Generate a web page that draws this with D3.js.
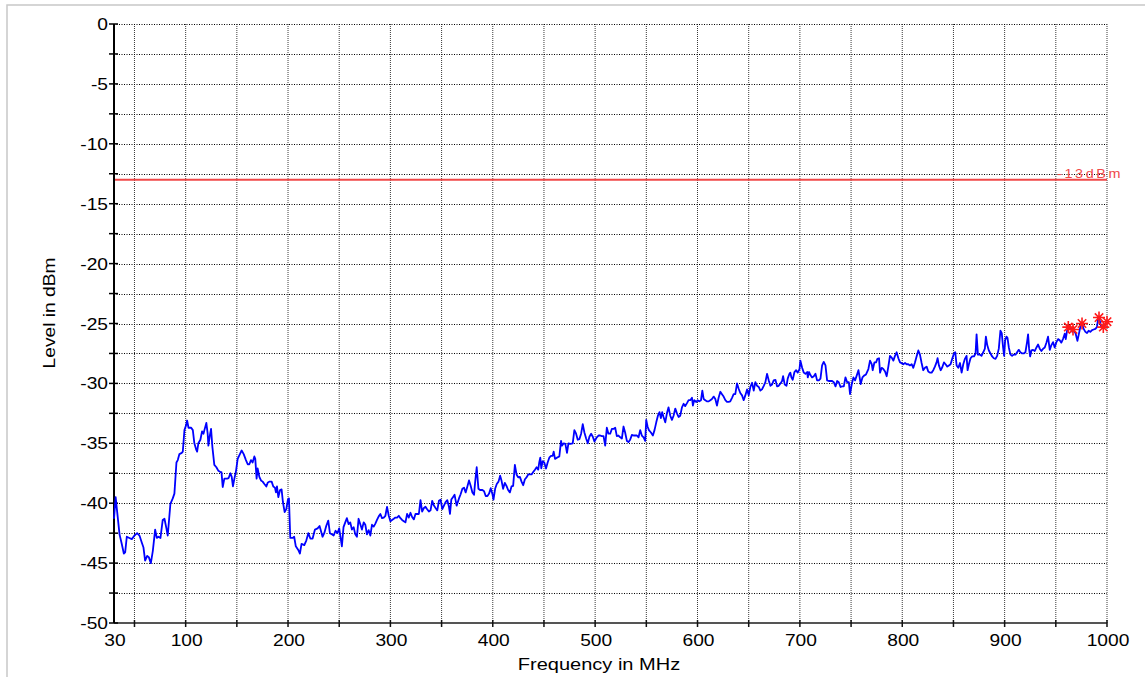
<!DOCTYPE html>
<html>
<head>
<meta charset="utf-8">
<script src="https://cdn.jsdelivr.net/npm/d3@7"></script>
<style>
  html, body { margin: 0; padding: 0; background: #fff; }
  svg { display: block; }
  text { font-family: "Liberation Sans", Arial, sans-serif; }
</style>
</head>
<body>
<svg id="chart" width="1145" height="677"></svg>
<script>
// Axis ticks and labels
const xLabelTicks = [30, 100, 200, 300, 400, 500, 600, 700, 800, 900, 1000];
const xGridTicks = [50, 100, 150, 200, 250, 300, 350, 400, 450, 500, 550, 600, 650, 700, 750, 800, 850, 900, 950, 1000];
const yLabelTicks = [0, -5, -10, -15, -20, -25, -30, -35, -40, -45, -50];
const yGridTicks = [0, -2.5, -5, -7.5, -10, -12.5, -15, -17.5, -20, -22.5, -25, -27.5, -30, -32.5, -35, -37.5, -40, -42.5, -45, -47.5];

// Limit line
const limitLevel = -13;
const limitLabel = "-13dBm";

// Measured sweep: [frequency MHz, level dBm]
const sweep = [
  [30,-41.3],[31.6,-39.5],[35.4,-42.6],[37.6,-43.4],[39.6,-44.2],[40.9,-44.1],[42.5,-42.8],[45,-42.9],[47.4,-43.0],[50,-42.7],
  [52.6,-42.5],[54.9,-42.7],[57.2,-43.3],[58.8,-43.7],[60.4,-44.8],[62.4,-44.4],[64,-44.5],[66,-45.0],[67.9,-44.0],[70.2,-42.2],
  [71.8,-42.9],[73.4,-42.8],[75.4,-42.9],[77.6,-41.4],[79.3,-41.3],[81.2,-42.1],[82.5,-42.7],[85.1,-40.05],[87.4,-39.6],[89,-39.2],
  [91,-36.6],[92.3,-36.4],[93.9,-35.9],[96.2,-35.8],[97.2,-35.7],[98.8,-33.9],[100.4,-33.5],[101.4,-33.1],[102.8,-33.7],[105.4,-33.7],
  [107,-33.9],[108.5,-35.0],[110.2,-35.5],[111.2,-35.7],[112.4,-35.0],[114.4,-34.7],[116,-34.0],[117.4,-34.2],[118.3,-33.9],[120.2,-33.3],
  [121.5,-34.2],[122.2,-35.2],[123.5,-34.4],[124.8,-33.8],[126.1,-35.3],[128,-36.8],[130,-37.0],[132,-37.3],[133.9,-37.4],[135,-37.4],
  [136.2,-38.65],[137.8,-37.95],[140.4,-37.95],[142,-37.9],[143.7,-37.5],[145,-37.8],[146.2,-38.6],[147.6,-37.95],[149.2,-37.3],[150.8,-36.3],
  [152.4,-36.0],[154.7,-35.6],[156.7,-35.9],[158.9,-36.4],[160.6,-36.75],[162.2,-36.75],[163.8,-36.4],[165.4,-36.6],[167.1,-36.1],[168,-36.3],
  [169.3,-37.95],[170.3,-37.1],[172,-37.8],[173.6,-38.1],[175.2,-38.2],[176.9,-38.4],[178.8,-38.6],[180.1,-38.3],[181.7,-38.2],[184,-38.2],
  [185.6,-38.6],[187.2,-38.7],[188.2,-39.1],[189.2,-38.6],[190.5,-39.5],[192.2,-38.9],[193.7,-38.85],[195,-39.9],[196.7,-40.75],[198.3,-40.5],
  [199.9,-39.7],[200.9,-39.6],[202.2,-42.9],[204.5,-42.9],[206,-42.8],[207.6,-43.6],[210,-43.9],[211.6,-44.2],[213.2,-43.4],[215.9,-43.5],
  [217.9,-43.1],[219.8,-42.5],[221.8,-42.95],[224,-42.95],[226.3,-42.2],[228.9,-42.1],[230.8,-41.9],[232.1,-42.3],[233.7,-42.8],[235.4,-42.5],
  [237.3,-41.9],[239.3,-41.45],[240.9,-42.5],[242.8,-42.6],[244.5,-42.7],[246.4,-42.3],[248.3,-42.5],[250,-42.1],
  [252.6,-43.6],[254.2,-42.0],[255.9,-41.6],[257.5,-41.25],[259.2,-41.75],[260.8,-41.6],[262.4,-42.2],[264.1,-42.0],[265.7,-42.6],[267.3,-42.8],
  [268.9,-41.3],[270.6,-41.75],[272.2,-42.2],[273.9,-41.6],[275.5,-41.8],[277.1,-42.6],[278.8,-42.25],[280.4,-42.7],[282,-41.8],[283.7,-41.95],
  [285.3,-41.7],[286.9,-41.4],[288.6,-41.1],[290.2,-40.9],[291.8,-41.25],[293.5,-41.2],[295.1,-41.05],[296.7,-40.3],[298.4,-41.05],[300,-41.5],
  [301.6,-41.4],[303.3,-41.3],[304.9,-41.2],[306.5,-41.2],[308.2,-41.05],[309.8,-41.25],[311.4,-41.4],[313.1,-41.5],[314.7,-41.6],[316.3,-40.9],
  [318,-41.2],[319.6,-40.8],[321.2,-41.15],[322.9,-41.35],[324.5,-40.9],[326.1,-40.9],[327.8,-40.9],[329.4,-39.75],[331,-40.7],[332.7,-40.4],
  [334.3,-40.3],[335.9,-40.5],[337.6,-40.7],[339.2,-40.6],[340.8,-39.8],[342.5,-40.2],[344.1,-40.4],[345.8,-40.6],[347.4,-39.8],[349,-39.7],
  [350.7,-40.5],[352.3,-40.2],[353.9,-39.9],[355.6,-39.75],[357.2,-40.3],[358.2,-40.9],[359.5,-39.7],[361.1,-39.5],[362.7,-39.3],[364.7,-40.2],
  [367,-39.6],[368.6,-39.25],[370.3,-38.8],[371.9,-38.7],[373.5,-39.1],[375.2,-38.6],[376.8,-38.1],[378.4,-38.55],[380.1,-39.1],[381.7,-39.3],
  [382.7,-38.3],[384.3,-37.0],[386,-38.8],[387.6,-38.9],[389.9,-38.9],[391.5,-39.0],[393.1,-39.4],[394.8,-39.4],[396.4,-39.2],[398,-38.75],
  [399.7,-39.25],[400.7,-39.7],[402.3,-38.8],[403.9,-38.4],[405.6,-38.2],[407.2,-37.7],[408.5,-38.1],[410.1,-38.8],[411.8,-38.3],[413.4,-38.55],
  [415,-38.9],[416.7,-39.1],[418.3,-38.6],[419.9,-38.55],[421.6,-36.8],[423.2,-37.6],[424.8,-37.85],[426.5,-37.8],[428.1,-38.2],[429.7,-38.5],
  [431.4,-38.0],[433,-37.85],[434.6,-37.6],[436.3,-37.6],[437.9,-37.6],[439.5,-37.4],[441.2,-37.2],[442.8,-37.0],[444.4,-37.2],[445.4,-36.6],
  [446.4,-36.2],[447.4,-37.1],[448.7,-36.5],[450.3,-36.6],[452,-37.1],[453.6,-36.6],[455.2,-36.2],[456.9,-36.05],[458.5,-36.05],[459.5,-35.7],
  [460.8,-36.3],[462.7,-36.2],[465,-36.1],[466.7,-34.8],[467.6,-35.2],[469.3,-35.0],[470.9,-35.05],[472.5,-35.8],[473.9,-35.0],[475.8,-35.05],
  [478.1,-35.0],[479.7,-33.9],[481.4,-34.2],[483,-34.7],[484.6,-34.65],[486.3,-34.2],[487.9,-33.4],[489.5,-34.1],[491.2,-34.6],[492.8,-35.0],
  [494.4,-34.45],[496.1,-34.2],[497.7,-34.45],[499.3,-34.85],
  [501.6,-34.5],[503.3,-34.35],[504.9,-34.35],[506.5,-34.4],[508.2,-34.4],[509.8,-35.2],[511.4,-33.7],[513,-34.2],[514.7,-34.2],[516.3,-33.8],
  [517.9,-33.8],[519.6,-33.7],[521.2,-34.4],[522.8,-34.35],[524.5,-34.5],[526.1,-34.6],[527.7,-33.6],[529.3,-34.1],[531,-34.8],[532.6,-34.9],
  [534.2,-34.7],[535.9,-34.3],[537.5,-34.35],[539.1,-34.35],[540.8,-34.35],[542.4,-34.5],[544,-33.9],[545.6,-34.35],[547.3,-34.5],[548.9,-34.8],
  [549.9,-33.05],[551.2,-33.6],[552.5,-33.9],[554.5,-34.1],[556.4,-34.35],[558,-33.9],[559.7,-33.25],[561.3,-32.7],[562.9,-32.4],[564.2,-32.9],
  [565.5,-32.4],[566.8,-32.8],[568.5,-33.25],[570.1,-32.5],[571.7,-32.0],[573.4,-32.7],[575,-33.05],[576.6,-32.7],[578.3,-32.1],[579.9,-32.5],
  [581.5,-32.8],[583.1,-32.7],[584.8,-32.0],[586.4,-31.7],[588,-31.9],[589.7,-31.65],[591.3,-31.4],[592.9,-31.4],[594.6,-31.2],[595.5,-31.85],
  [596.8,-31.4],[598.8,-31.55],[600.1,-31.4],[601.7,-31.5],[603.4,-31.4],[604.7,-30.6],[606,-31.3],[607.6,-31.4],[609.2,-31.5],[610.9,-31.5],
  [612.5,-31.4],[614.1,-31.3],[615.8,-31.1],[617.4,-31.3],[619,-31.85],[620.6,-31.2],[622.3,-30.7],[623.9,-30.9],[625.5,-31.1],[627.2,-31.4],
  [628.8,-31.55],[630.4,-31.55],[632,-31.5],[633.7,-31.2],[635.3,-30.9],[636.9,-30.9],[638.6,-30.0],[640.2,-30.45],[641.8,-30.8],[643.5,-31.0],
  [645.1,-31.4],[646.7,-31.0],[648.4,-30.5],[650,-31.0],[651.6,-30.3],[653.3,-29.95],[654.9,-30.6],[656.5,-29.9],[658.2,-30.2],[659.8,-30.3],
  [661.4,-30.6],[663,-30.5],[664.7,-30.2],[666.3,-29.9],[667.9,-29.2],[669.6,-29.75],[671.2,-30.2],[672.8,-30.1],[674.4,-29.75],[676.1,-29.7],
  [677.7,-30.25],[679.3,-30.2],[681,-30.0],[682.6,-29.8],[683.6,-29.4],[685.2,-30.1],[686.9,-30.2],[688.1,-29.6],[689.8,-29.2],[690.7,-29.1],
  [691.7,-29.5],[693,-29.7],[694.7,-29.05],[696.3,-28.9],[697.9,-29.1],[699.6,-28.8],[700.5,-28.1],[702.2,-28.7],[703.8,-29.1],[705.4,-29.2],
  [707.1,-29.05],[707.7,-29.5],[709,-29.05],[710.3,-29.3],[711.9,-29.5],[713.6,-29.4],[715.2,-29.2],[716.8,-29.75],[718.5,-29.75],[720.1,-29.6],
  [721.7,-28.5],[723.3,-28.2],[725,-28.5],[726.6,-29.75],[728.2,-29.8],[729.9,-29.8],[731.5,-29.8],[733.1,-29.9],[734.8,-30.25],[736.4,-29.8],
  [738,-29.9],[739.7,-30.3],[741.3,-30.25],[742.9,-30.25],[744.5,-29.5],[746.2,-29.9],[747.8,-29.9],
  [749,-30.9],[750.7,-30.05],[752.3,-29.5],[753.9,-29.75],[755.5,-29.35],[757.2,-28.9],[758.1,-29.35],[759.4,-30.05],[761.1,-29.5],[762.7,-29.35],
  [764.6,-29.25],[766.9,-28.8],[768.5,-28.1],[770.2,-28.4],[771.1,-28.9],[772.8,-28.25],[774.4,-28.25],[775.7,-27.95],[777.3,-27.9],[778.3,-29.1],
  [779.9,-28.7],[781.5,-28.8],[783.2,-29.0],[784.8,-29.4],[786.4,-28.6],[788,-27.7],[789.7,-27.85],[791.3,-28.1],[792.9,-27.7],[794.5,-27.4],
  [796.2,-27.9],[797.8,-28.25],[799.4,-28.3],[801,-28.4],[802.7,-28.3],[804.3,-28.4],[805.9,-28.4],[807.5,-28.5],[809.2,-28.4],[810.8,-28.7],
  [812.4,-28.25],[814,-27.75],[815.7,-27.25],[817.3,-27.6],[818.9,-28.3],[820.5,-28.9],[822.2,-28.7],[823.8,-28.6],[825.4,-29.0],[827,-29.1],
  [828.7,-29.1],[830.3,-28.9],[831.9,-28.6],[833.5,-28.25],[834.5,-27.9],[835.8,-28.5],[837.5,-28.9],[839.1,-28.65],[840.7,-28.25],[842.3,-28.4],
  [844,-28.6],[845.6,-28.5],[847.2,-28.4],[848.8,-27.95],[850.5,-27.5],[851.8,-27.4],[853.1,-28.5],[854.7,-28.7],[856.4,-28.3],[858,-29.1],
  [859.6,-28.4],[861.2,-27.95],[862.8,-27.7],[863.8,-28.9],[865.1,-28.4],[866.7,-27.9],[868.3,-27.75],[870,-27.75],[871.6,-27.5],[872.6,-25.9],
  [873.9,-27.6],[875.8,-27.6],[877.4,-27.7],[879.1,-27.4],[880.7,-27.1],[881.7,-26.1],[883,-26.8],[884.6,-27.25],[886.2,-27.5],[887.8,-27.75],
  [889.4,-27.9],[891.1,-27.95],[892.7,-27.7],[894.3,-27.1],[895.9,-25.6],[897.2,-25.8],[898.5,-27.0],[899.5,-27.7],[900.5,-26.4],[901.8,-26.1],
  [902.8,-26.2],[904.1,-27.0],[905.7,-27.6],[907.3,-27.7],[908.9,-27.6],[910.6,-27.6],[912.2,-27.4],[913.8,-27.2],[915.4,-27.4],[917.1,-27.5],
  [918.7,-27.5],[920.3,-27.4],[921.9,-26.55],[922.9,-25.9],[923.9,-27.1],[924.9,-27.75],[926.2,-27.25],[927.8,-27.2],[929.4,-27.3],[931.1,-27.0],
  [932.7,-26.75],[934.3,-27.1],[935.9,-27.3],[937.6,-27.1],[939.2,-27.0],[940.8,-26.6],[942.4,-26.1],[944.1,-27.2],[945.7,-26.8],[947.3,-26.55],
  [948.9,-27.0],[950.6,-26.55],[952.2,-26.3],[953.8,-26.4],[955.4,-26.6],[957,-26.3],[958.7,-25.85],[959.7,-26.3],[961,-25.6],[962.6,-25.45],
  [964.2,-25.35],[966.2,-25.7],[967.8,-25.6],[969.4,-25.85],[971.1,-26.45],[972.7,-25.8],[974.3,-25.15],[975.6,-25.0],[977.2,-25.45],[978.9,-25.7],
  [980.5,-25.8],[982.1,-25.6],[983.7,-25.7],[985.4,-25.55],[987,-25.5],[988.6,-25.45],[990.2,-25.3],[991.5,-24.5],[992.8,-24.7],[994.4,-25.3],
  [996.1,-25.3],[997.7,-25.25],[999.3,-24.8],[1000,-24.75]
];

// Peak markers: [frequency MHz, level dBm]
const peaks = [[962.2,-25.3],[966.8,-25.5],[975.6,-25.0],[992.2,-24.5],[996.4,-25.3],[1000,-24.85]];

const svg = d3.select("#chart");
const W = 1145, H = 677;
const plot = { left: 114, right: 1107, top: 24, bottom: 623 };

const x = d3.scaleLinear().domain([30, 1000]).range([plot.left, plot.right]);
const y = d3.scaleLinear().domain([-50, 0]).range([plot.bottom, plot.top]);

// outer frame
svg.append("rect")
  .attr("x", 7).attr("y", 5)
  .attr("width", W + 20).attr("height", H + 20)
  .attr("fill", "none").attr("stroke", "#c8c8c8").attr("stroke-width", 1.5);

// grid
const grid = svg.append("g");
grid.selectAll(".vg").data(xGridTicks).join("line")
  .attr("x1", d => x(d)).attr("x2", d => x(d))
  .attr("y1", plot.top).attr("y2", plot.bottom)
  .attr("stroke", "#3a3a3a").attr("stroke-width", 1).attr("stroke-dasharray", "1,1");
grid.selectAll(".hg").data(yGridTicks).join("line")
  .attr("x1", plot.left).attr("x2", plot.right)
  .attr("y1", d => Math.round(y(d)) + 0.5).attr("y2", d => Math.round(y(d)) + 0.5)
  .attr("stroke", "#000").attr("stroke-width", 1).attr("stroke-dasharray", "1,1.5");

// limit line and its label
svg.append("line")
  .attr("x1", x(30)).attr("x2", x(1000))
  .attr("y1", y(limitLevel)).attr("y2", y(limitLevel))
  .attr("stroke", "#f04848").attr("stroke-width", 2);
svg.append("text")
  .attr("transform", `translate(${x(1000) - 50},${y(limitLevel) - 1.5}) scale(1.2,1)`)
  .attr("font-size", 12).attr("fill", "#f04848")
  .attr("letter-spacing", 2.2)
  .text(limitLabel);

// x axis
svg.append("line")
  .attr("x1", plot.left).attr("x2", plot.right)
  .attr("y1", plot.bottom).attr("y2", plot.bottom)
  .attr("stroke", "#555").attr("stroke-width", 2);
svg.selectAll(".xt").data(xGridTicks).join("line")
  .attr("x1", d => x(d)).attr("x2", d => x(d))
  .attr("y1", plot.bottom - 3).attr("y2", plot.bottom + 4)
  .attr("stroke", "#111").attr("stroke-width", 1.5);
svg.selectAll(".xl").data(xLabelTicks).join("text")
  .attr("transform", d => `translate(${x(d) + 1},${plot.bottom + 23}) scale(1.2,1)`)
  .attr("text-anchor", "middle").attr("font-size", 16).attr("fill", "#000")
  .text(d => d);

// y axis
svg.append("line")
  .attr("x1", plot.left).attr("x2", plot.left)
  .attr("y1", plot.top).attr("y2", plot.bottom)
  .attr("stroke", "#000").attr("stroke-width", 2);
svg.selectAll(".yt").data(yGridTicks.concat([-50])).join("line")
  .attr("x1", plot.left - 5).attr("x2", plot.left + 4)
  .attr("y1", d => y(d)).attr("y2", d => y(d))
  .attr("stroke", "#000").attr("stroke-width", 1.5);
svg.selectAll(".yl").data(yLabelTicks).join("text")
  .attr("transform", d => `translate(${plot.left - 6},${y(d) + 6}) scale(1.2,1)`)
  .attr("text-anchor", "end").attr("font-size", 16).attr("fill", "#000")
  .text(d => d);

// axis titles
svg.append("text")
  .attr("transform", `translate(599,670) scale(1.25,1)`)
  .attr("text-anchor", "middle").attr("font-size", 16).attr("fill", "#000")
  .text("Frequency in MHz");
svg.append("text")
  .attr("transform", `translate(55,313) rotate(-90) scale(1.2,1)`)
  .attr("text-anchor", "middle").attr("font-size", 16).attr("fill", "#000")
  .text("Level in dBm");

// trace
const line = d3.line().x(d => x(d[0])).y(d => y(d[1]));
svg.append("path")
  .datum(sweep)
  .attr("d", line)
  .attr("fill", "none").attr("stroke", "#0000ff").attr("stroke-width", 1.8)
  .attr("stroke-linejoin", "round");

// peak markers (eight-spoke stars)
const star = (cx, cy) => {
  const r = 6, d = 4.2;
  return `M${cx - r},${cy}L${cx + r},${cy}M${cx},${cy - r}L${cx},${cy + r}` +
         `M${cx - d},${cy - d}L${cx + d},${cy + d}M${cx - d},${cy + d}L${cx + d},${cy - d}`;
};
svg.selectAll(".pk").data(peaks).join("path")
  .attr("d", d => star(x(d[0]), y(d[1])))
  .attr("fill", "none").attr("stroke", "#ff1a1a").attr("stroke-width", 1.6);
</script>
</body>
</html>
